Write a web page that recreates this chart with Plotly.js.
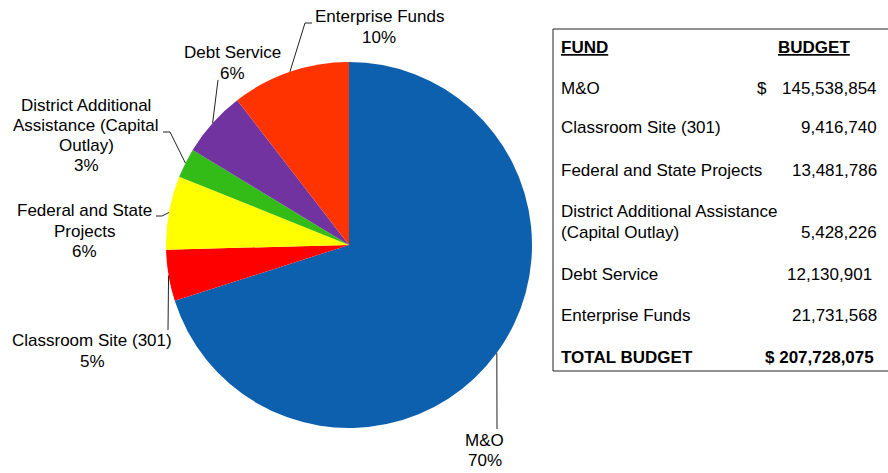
<!DOCTYPE html>
<html><head><meta charset="utf-8">
<script src="https://cdn.plot.ly/plotly-3.0.1.min.js"></script>
<style>html,body{margin:0;padding:0;background:#fff}</style>
</head><body><div id="chart" style="width:888px;height:473px"></div>
<script>
// ---- data ----
const funds = ["M&O", "Classroom Site (301)", "Federal and State Projects", "District Additional Assistance (Capital Outlay)", "Debt Service", "Enterprise Funds"];
const budgets = [145538854, 9416740, 13481786, 5428226, 12130901, 21731568];
const pieLabels = ["M&O", "Classroom Site (301)", "Federal and State<br>Projects", "District Additional<br>Assistance (Capital<br>Outlay)", "Debt Service", "Enterprise Funds"];
const tableLabels = ["M&O", "Classroom Site (301)", "Federal and State Projects", "District Additional Assistance<br>(Capital Outlay)", "Debt Service", "Enterprise Funds"];
const tableHeaders = ["FUND", "BUDGET"];
const totalLabel = "TOTAL BUDGET";
const sliceColors = ["#0D60AE", "#FF0000", "#FFFF00", "#33BB18", "#7133A0", "#FF3300"];

// ---- layout geometry (pixels) ----
const W = 888, H = 473;
const cx = 349, cy = 245, R = 183;
const FONT = "Liberation Sans, Arial, sans-serif";
const FS = 17;
const LINE = 20.3;
const px = x => x / W;
const py = y => 1 - y / H;

// label block centres and leader-line bends (pixels)
const labelPos = [[484.5, 450.5], [92, 351], [84.5, 231], [86, 135.5], [232, 63], [379, 27]];
const leaderBends = [
  [[497, 429]],
  [[168, 330]],
  [[162, 216], [156, 216]],
  [[170, 132], [163, 132]],
  [[218, 80]],
  [[305, 23], [312, 23]]
];
// table rows (pixels)
const rowY = [88, 128, 170, 211.5, 274, 315];
const valueY = [88, 128, 170, 232, 274, 315];
const valueRight = [879, 879, 879, 879, 874, 879];
const tableLeft = 559, dollarX = 755;

const total = budgets.reduce((a, b) => a + b, 0);
const fmt = v => v.toLocaleString("en-US");

const annotations = [];
const shapes = [];
const txt = (x, y, text, xanchor) => ({xref: "paper", yref: "paper", x: px(x), y: py(y),
  xanchor: xanchor, yanchor: "middle", align: xanchor === "center" ? "center" : xanchor,
  showarrow: false, text: text, font: {family: FONT, size: FS, color: "#000"}});

// pie labels + leader lines
let cum = 0;
budgets.forEach((v, i) => {
  const th = 2 * Math.PI * (cum + v / 2) / total;
  cum += v;
  const ex = cx + R * Math.sin(th), ey = cy - R * Math.cos(th);
  let path = `M ${px(ex)},${py(ey)}`;
  leaderBends[i].forEach(p => { path += ` L ${px(p[0])},${py(p[1])}`; });
  shapes.push({type: "path", xref: "paper", yref: "paper", path: path,
    line: {color: "#222", width: 1}});
  const pct = Math.round(v / total * 100);
  const lines = pieLabels[i].split("<br>").concat([pct + "%"]);
  lines.forEach((ln, k) => {
    const y = labelPos[i][1] + (k - (lines.length - 1) / 2) * LINE;
    annotations.push(txt(labelPos[i][0], y, ln, "center"));
  });
});

// table
annotations.push(txt(tableLeft, 47, "<b><u>" + tableHeaders[0] + "</u></b>", "left"));
annotations.push(txt(814, 47, "<b><u>" + tableHeaders[1] + "</u></b>", "center"));
tableLabels.forEach((t, i) => {
  t.split("<br>").forEach((ln, k) => annotations.push(txt(tableLeft, rowY[i] + k * 21, ln, "left")));
  annotations.push(txt(valueRight[i], valueY[i], fmt(budgets[i]), "right"));
});
annotations.push(txt(dollarX, valueY[0], "$", "left"));
annotations.push(txt(tableLeft, 357, "<b>" + totalLabel + "</b>", "left"));
annotations.push(txt(876, 357, "<b>$ " + fmt(total) + "</b>", "right"));

shapes.push({type: "rect", xref: "paper", yref: "paper", x0: px(553), x1: px(900), y0: py(371), y1: py(29),
  line: {color: "#222", width: 1}, fillcolor: "rgba(0,0,0,0)"});

const trace = {
  type: "pie", labels: funds, values: budgets, sort: false, direction: "clockwise", rotation: 0,
  textinfo: "none", hoverinfo: "label+value+percent",
  marker: {colors: sliceColors, line: {width: 0}},
  domain: {x: [px(cx - R), px(cx + R)], y: [py(cy + R), py(cy - R)]},
  showlegend: false
};

Plotly.newPlot("chart", [trace], {
  width: W, height: H, margin: {l: 0, r: 0, t: 0, b: 0},
  paper_bgcolor: "#fff", plot_bgcolor: "#fff", showlegend: false,
  annotations: annotations, shapes: shapes
}, {staticPlot: true, displayModeBar: false});
</script></body></html>
